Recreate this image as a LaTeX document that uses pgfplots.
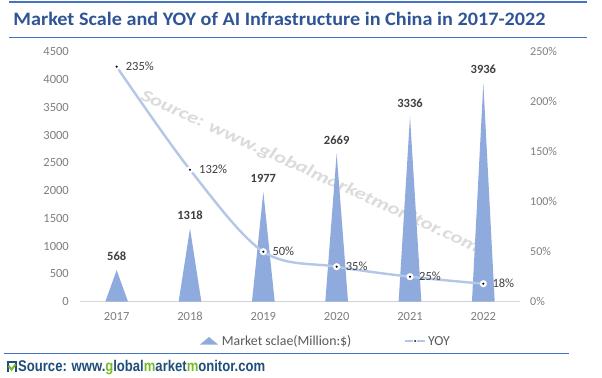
\documentclass[border=0pt]{standalone}
\usepackage{fontspec}
\setmainfont{Carlito}
\newfontfamily\arialfont{Liberation Sans}
\usepackage{pgfplots}
\pgfplotsset{compat=1.18}
\usepackage{pgfplotstable}
\definecolor{titleblue}{HTML}{2F5597}
\definecolor{lineblue}{HTML}{4472C4}
\definecolor{conefill}{HTML}{8FAADC}
\definecolor{yoyline}{HTML}{B4C7E7}
\definecolor{tickgray}{HTML}{7F7F7F}
\definecolor{legendgray}{HTML}{595959}
\definecolor{labeldark}{HTML}{404040}
\definecolor{srcblue}{HTML}{1F4E79}
\definecolor{srcgreen}{HTML}{7AB929}

\pgfplotstableread{
x year scale yoy
0 2017 568 235
1 2018 1318 132
2 2019 1977 50
3 2020 2669 35
4 2021 3336 25
5 2022 3936 18
}\datatable

\pgfdeclareplotmark{ringdot}{%
  \pgfpathcircle{\pgfpointorigin}{3.6pt}\pgfsetfillcolor{white}\pgfusepath{fill}%
  \pgfpathcircle{\pgfpointorigin}{1.2pt}\pgfsetfillcolor{black}\pgfusepath{fill}}

\pgfplotsset{/pgf/number format/1000 sep={}}

\begin{document}
\begin{tikzpicture}[x=1bp,y=1bp]
\path[use as bounding box, fill=white] (0,0) rectangle (602,377);
\draw[lineblue, line width=2bp] (9,375.3) -- (587,375.3);
\node[anchor=base west, inner sep=0pt, text=titleblue] at (13.3,351.3)
  {\resizebox{532bp}{\height}{\fontsize{19bp}{19bp}\selectfont\bfseries Market Scale and YOY of AI Infrastructure in China in 2017-2022}};
\draw[lineblue, line width=1.3bp] (9,339.7) -- (587,339.7);

% watermark
\node[rotate=-24.5, text=gray!28, inner sep=0pt] at (310,205)
  {\resizebox{370bp}{\height}{\fontsize{17bp}{17bp}\selectfont\bfseries\itshape Source: www.globalmarketmonitor.com}};

\begin{axis}[
  at={(80bp,75.3bp)}, anchor=south west,
  scale only axis, width=440bp, height=250bp,
  xmin=-0.5, xmax=5.5, ymin=0, ymax=4500,
  ytick distance=500,
  xtick={0,1,2,3,4,5}, xticklabels={2017,2018,2019,2020,2021,2022},
  axis x line*=bottom, axis y line*=left,
  x axis line style={draw=black!15, line width=0.8bp, -},
  y axis line style={draw=none},
  major tick length=0pt,
  tick label style={font=\fontsize{12.5bp}{12.5bp}\selectfont, text=tickgray},
  /pgf/number format/assume math mode=true,
  yticklabel style={anchor=east, inner sep=0pt, xshift=-11bp},
  xticklabel style={anchor=north, inner sep=0pt, yshift=-10bp},
  clip=false,
]
\addplot[fill=conefill, draw=none, forget plot] coordinates {
  (-0.155,0) (0,568) (0.155,0)
  (0.845,0) (1,1318) (1.155,0)
  (1.845,0) (2,1977) (2.155,0)
  (2.845,0) (3,2669) (3.155,0)
  (3.845,0) (4,3336) (4.155,0)
  (4.845,0) (5,3936) (5.155,0)
};
\addplot[draw=none, mark=none, forget plot, point meta=explicit,
  nodes near coords,
  nodes near coords style={anchor=south, inner sep=0pt, yshift=9bp,
    font=\fontsize{12.5bp}{12.5bp}\selectfont\bfseries, text=labeldark}]
  table[x=x, y=scale, meta=scale] {\datatable};
\end{axis}

\begin{axis}[
  at={(80bp,75.3bp)}, anchor=south west,
  scale only axis, width=440bp, height=250bp,
  xmin=-0.5, xmax=5.5, ymin=0, ymax=250,
  ytick distance=50,
  axis y line*=right, axis x line=none,
  y axis line style={draw=none},
  major tick length=0pt,
  tick label style={font=\fontsize{12bp}{12bp}\selectfont, text=tickgray},
  /pgf/number format/assume math mode=true,
  yticklabel={\pgfmathprintnumber{\tick}\%},
  yticklabel style={anchor=west, inner sep=0pt, xshift=10bp},
  clip=false,
]
\addplot[yoyline, line width=2.4bp, smooth, tension=0.55, mark=ringdot,
  point meta=explicit,
  nodes near coords={\pgfmathprintnumber{\pgfplotspointmeta}\%},
  nodes near coords style={anchor=west, inner sep=0pt, xshift=8bp,
    font=\fontsize{12.5bp}{12.5bp}\selectfont, text=labeldark}]
  table[x=x, y=yoy, meta=yoy] {\datatable};
\end{axis}

% legend
\fill[conefill] (200,32.5) -- (209,40) -- (218,32.5) -- cycle;
\node[anchor=west, inner sep=0pt, text=legendgray, font=\fontsize{13.8bp}{13.8bp}\selectfont] at (221.7,36) {Market sclae(Million:\$)};
\draw[yoyline, line width=2bp] (405,36) -- (425,36);
\fill[white] (415,36) circle (2.2);
\fill[black] (415,36) circle (1);
\node[anchor=west, inner sep=0pt, text=legendgray, font=\fontsize{13.8bp}{13.8bp}\selectfont] at (428,36) {YOY};

\draw[lineblue, line width=1.2bp] (4,23.7) -- (569,23.7);

% footer logo
\fill[srcblue] (6.7,16.3) rectangle (16.9,14.2);
\fill[srcblue] (6.7,14.2) rectangle (8.6,5.3);
\fill[srcblue] (15.0,14.2) rectangle (16.9,5.3);
\draw[srcgreen, line width=2bp] (8.6,11.2) -- (11.6,7.4) -- (15.6,12.8);
\node[anchor=base west, inner sep=0pt] at (18,5.3)
  {\resizebox{247bp}{\height}{\arialfont\fontsize{15.5bp}{15.5bp}\selectfont\bfseries\color{srcblue}Source: www.\textcolor{srcgreen}{g}lobal\textcolor{srcgreen}{m}arket\textcolor{srcgreen}{m}onitor.com}};
\end{tikzpicture}
\end{document}
